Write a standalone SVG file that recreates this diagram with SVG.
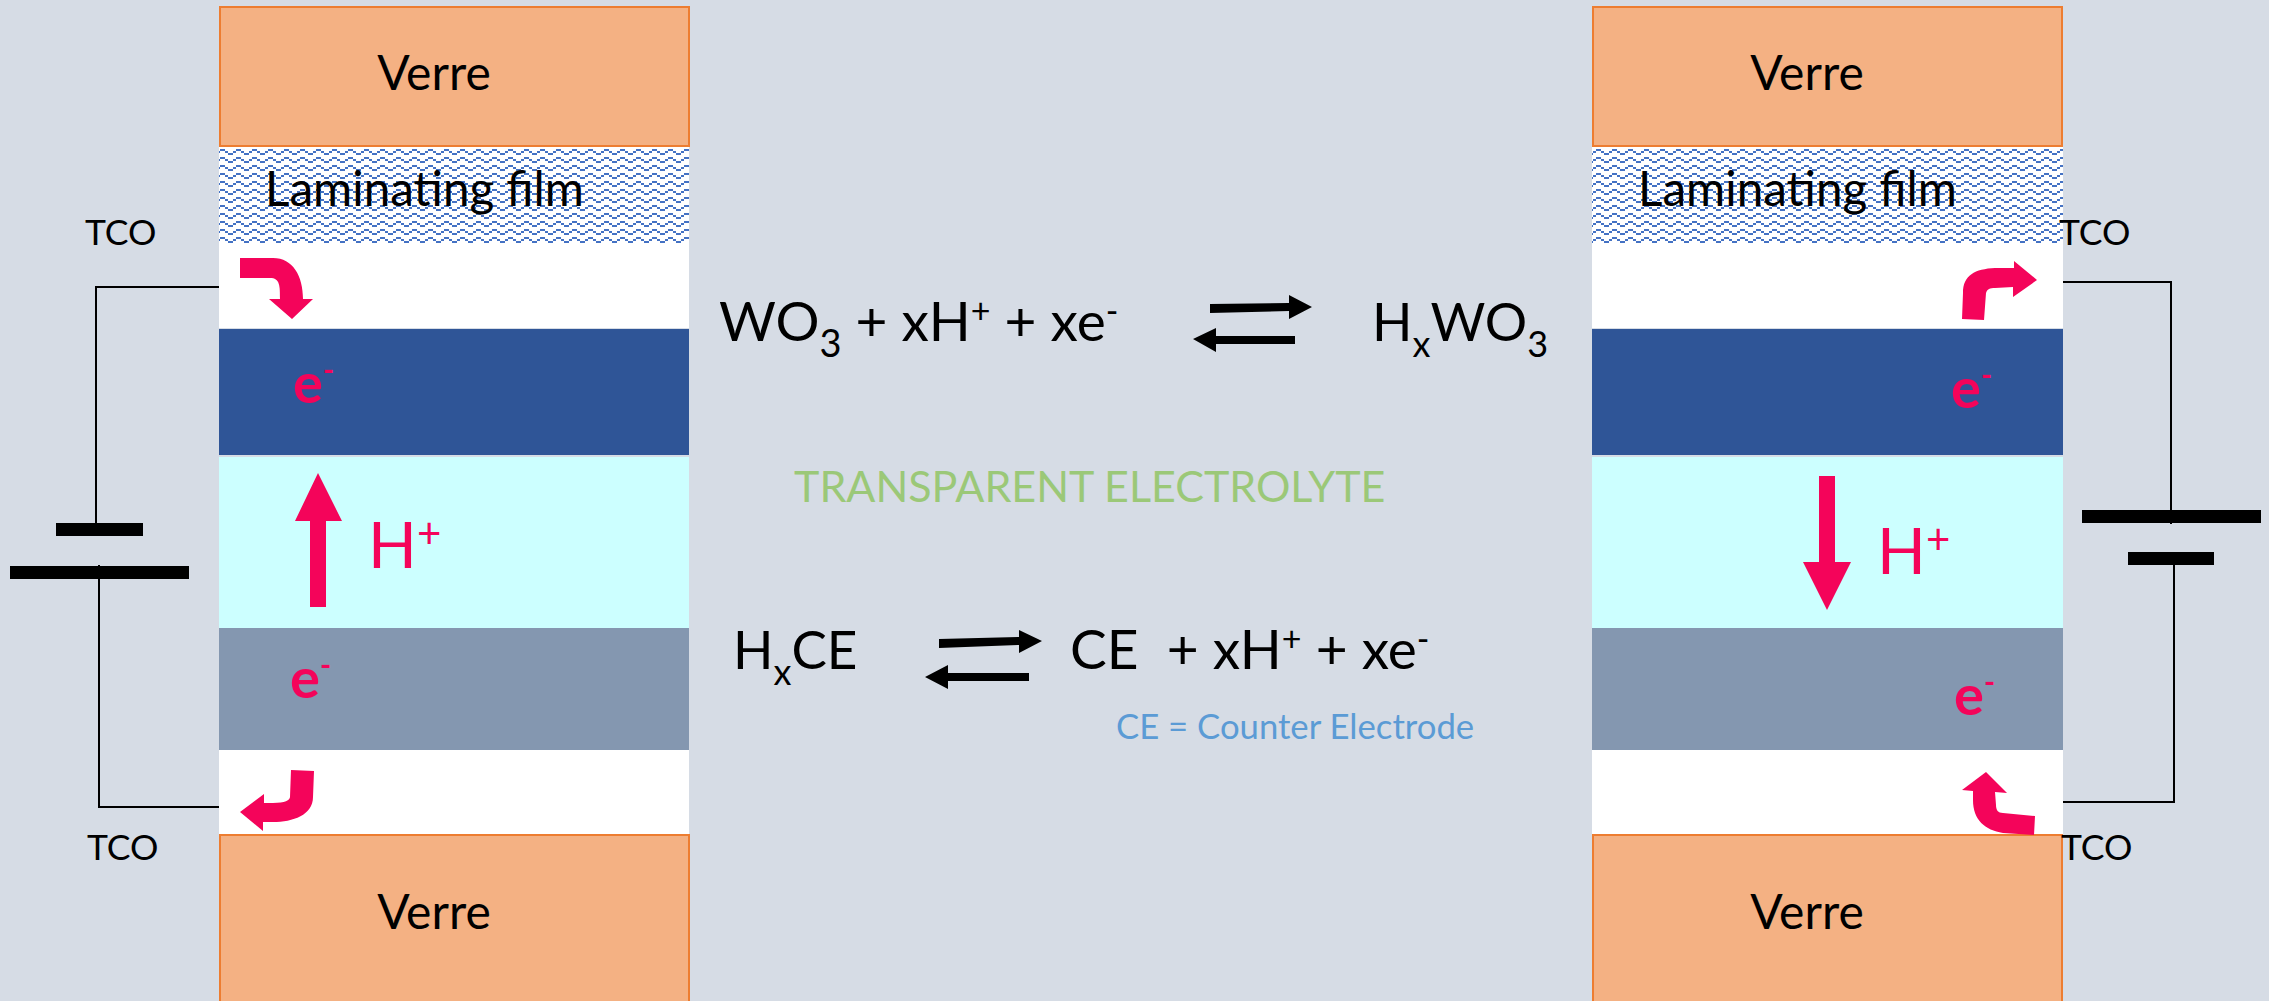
<svg xmlns="http://www.w3.org/2000/svg" width="2269" height="1001" viewBox="0 0 2269 1001">
<style>
text{font-family:Lato,"Noto Sans",sans-serif;fill:#000}
.v{font-size:48px;text-anchor:middle}
.l{font-size:47.6px}
.t{font-size:35.5px}
.eq{font-size:55px}
.eq2{font-size:53px}
.e{font-size:56px;font-weight:700;fill:#F4045A}
.h{font-size:64px;fill:#F4045A}
.glass{fill:#F4B183;stroke:#ED7D31;stroke-width:2}
.pink{fill:#F4045A}
.wire{fill:none;stroke:#000;stroke-width:2}
</style>
<defs>
<pattern id="wave" width="16" height="8" patternUnits="userSpaceOnUse" x="220" y="149">
<rect width="16" height="8" fill="#fff"/>
<path d="M0 0h5v2H0zM5 2h3v2H5zM8 4h5v2H8zM13 2h3v2h-3z" fill="#4472C4"/>
</pattern>
</defs>
<rect width="2269" height="1001" fill="#D6DCE5"/>
<g id="stack-left">
<rect class="glass" x="220" y="7" width="469" height="139"/>
<rect x="219" y="147" width="470" height="96" fill="url(#wave)"/>
<rect x="219" y="243" width="470" height="85" fill="#fff"/>
<rect x="219" y="329" width="470" height="126" fill="#2F5597"/>
<rect x="219" y="457" width="470" height="171" fill="#CCFFFF"/>
<rect x="219" y="628" width="470" height="122" fill="#8497B0"/>
<rect x="219" y="750" width="470" height="85" fill="#fff"/>
<rect class="glass" x="220" y="835" width="469" height="170"/>
<text class="v" x="434" y="90">Verre</text>
<text class="l" x="265" y="206">Laminating film</text>
<text class="v" x="434" y="929">Verre</text>
<text class="e" x="293" y="403">e<tspan font-size="30" dy="-22">-</tspan></text>
<text class="e" x="290" y="698">e<tspan font-size="30" dy="-22">-</tspan></text>
<text class="h" x="368" y="568">H<tspan font-size="42" dy="-20">+</tspan></text>
<path class="pink" d="M240 258H273C293 258 303 276 303 299H313L292 319 269 299H280C280 286 280 278 270 278H240Z"/>
<path class="pink" d="M310 607V521H295L318 473 342 521H326V607Z"/>
<path class="pink" d="M291 770 314 771 313 797C313 815 293 822 273 822H263V831L240 812 264 794V803H273C285 803 290 800 290 797Z"/>
</g>
<g id="stack-right">
<rect class="glass" x="1593" y="7" width="469" height="139"/>
<rect x="1592" y="147" width="471" height="96" fill="url(#wave)"/>
<rect x="1592" y="243" width="471" height="85" fill="#fff"/>
<rect x="1592" y="329" width="471" height="126" fill="#2F5597"/>
<rect x="1592" y="457" width="471" height="171" fill="#CCFFFF"/>
<rect x="1592" y="628" width="471" height="122" fill="#8497B0"/>
<rect x="1592" y="750" width="471" height="85" fill="#fff"/>
<rect class="glass" x="1593" y="835" width="469" height="170"/>
<text class="v" x="1807" y="90">Verre</text>
<text class="l" x="1638" y="206">Laminating film</text>
<text class="v" x="1807" y="929">Verre</text>
<text class="e" x="1951" y="408">e<tspan font-size="30" dy="-22">-</tspan></text>
<text class="e" x="1954" y="715">e<tspan font-size="30" dy="-22">-</tspan></text>
<text class="h" x="1877" y="574">H<tspan font-size="42" dy="-20">+</tspan></text>
<path class="pink" d="M1962 319 1984 320 1986 293C1987 289 1990 288 1995 288L2013 287V297L2037 280 2014 261V268H1995C1975 269 1963 275 1963 293Z"/>
<path class="pink" d="M1819 476V562H1803L1827 610 1851 562H1835V476Z"/>
<path class="pink" d="M1962 790 1986 772 2007 793 1995 792 1996 805C1996 810 1998 813 2003 813L2035 816 2034 835 2003 833C1985 830 1973 820 1973 800V791Z"/>
</g>
<g id="labels">
<text class="t" x="85" y="245">TCO</text>
<text class="t" x="87" y="860">TCO</text>
<text class="t" x="2059" y="245">TCO</text>
<text class="t" x="2061" y="860">TCO</text>
<text class="eq" x="719" y="341">WO<tspan font-size="38" dy="16">3</tspan><tspan dy="-16"> + xH</tspan><tspan font-size="34" dy="-18">+</tspan><tspan dy="18"> + xe</tspan><tspan font-size="34" dy="-18">-</tspan></text>
<text class="eq2" x="1372" y="341">H<tspan font-size="36" dy="16">x</tspan><tspan dy="-16">WO</tspan><tspan font-size="36" dy="16">3</tspan></text>
<text x="794" y="502" font-size="43" style="fill:#9BC878">TRANSPARENT ELECTROLYTE</text>
<text class="eq2" x="733" y="669">H<tspan font-size="36" dy="16">x</tspan><tspan dy="-16">CE</tspan></text>
<text class="eq" x="1070" y="669" xml:space="preserve">CE  + xH<tspan font-size="34" dy="-18">+</tspan><tspan dy="18"> + xe</tspan><tspan font-size="34" dy="-18">-</tspan></text>
<text x="1116" y="739" font-size="34.7" style="fill:#5B9BD5">CE = Counter Electrode</text>
</g>
<g id="connectors">
<path class="wire" d="M219 287H96V523"/>
<path class="wire" d="M99 565V807H219"/>
<path class="wire" d="M2063 282H2171V524"/>
<path class="wire" d="M2174 565V802H2063"/>
<rect x="56" y="523" width="87" height="13"/>
<rect x="10" y="566" width="179" height="13"/>
<rect x="2082" y="510" width="179" height="13"/>
<rect x="2128" y="552" width="86" height="13"/>
<path d="M1210 304 1289 303V295L1312 307 1289 319V311L1210 313Z"/>
<path d="M1295 336H1216V328L1193 339 1216 352V344H1295Z"/>
<path d="M939 639 1019 637V630L1042 641 1019 653V645L939 648Z"/>
<path d="M1029 673H948V665L925 677 948 689V681H1029Z"/>
</g>
</svg>
